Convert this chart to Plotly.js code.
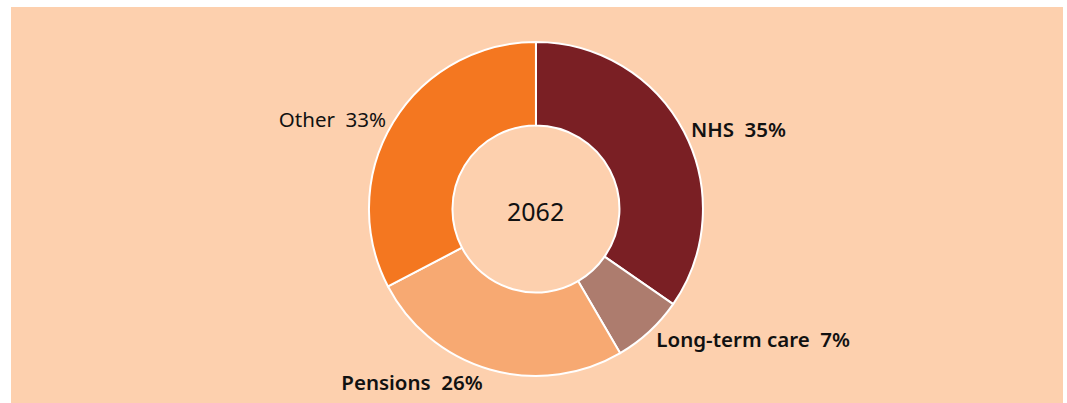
<!DOCTYPE html>
<html>
<head>
<meta charset="utf-8">
<script src="https://cdn.plot.ly/plotly-3.0.1.min.js"></script>
<style>html,body{margin:0;padding:0;background:#fff;}#chart{width:1067px;height:403px;}</style>
</head>
<body>
<div id="chart"></div>
<script>
var categories = ['NHS', 'Long-term care', 'Pensions', 'Other'];
var shares = [35, 7, 26, 33];
var shareLabels = ['35%', '7%', '26%', '33%'];
var sliceColors = ['#7A1F24', '#AD7C6E', '#F7A972', '#F47720'];
var centerLabel = '2062';

var trace = {
  type: 'pie',
  labels: categories,
  values: shares,
  text: shareLabels,
  texttemplate: '%{label}\u00a0 %{text}',
  textinfo: 'text',
  hoverinfo: 'none',
  sort: false,
  direction: 'clockwise',
  rotation: 0,
  hole: 0.5,
  textposition: 'outside',
  automargin: false,
  domain: {x: [0, 0.998], y: [0.0682, 0.9116]},
  marker: {colors: sliceColors, line: {color: '#ffffff', width: 2}},
  outsidetextfont: {family: '"Noto Sans", "Open Sans", sans-serif', size: 20.5, color: '#111111', weight: [600, 600, 600, 400]},
  showlegend: false
};

var layout = {
  width: 1067,
  height: 403,
  margin: {l: 11, r: 4, t: 7, b: 0},
  paper_bgcolor: '#ffffff',
  plot_bgcolor: '#FDD0AE',
  shapes: [{type: 'rect', xref: 'paper', yref: 'paper', x0: 0, x1: 1, y0: 0, y1: 1, fillcolor: '#FDD0AE', line: {width: 0}, layer: 'below'}],
  annotations: [{text: centerLabel, xref: 'paper', yref: 'paper', x: 0.499, y: 0.485, showarrow: false, font: {family: '"Noto Sans", "Open Sans", sans-serif', size: 25, color: '#111111'}}]
};

Plotly.newPlot('chart', [trace], layout, {displayModeBar: false, staticPlot: true});
</script>
</body>
</html>
